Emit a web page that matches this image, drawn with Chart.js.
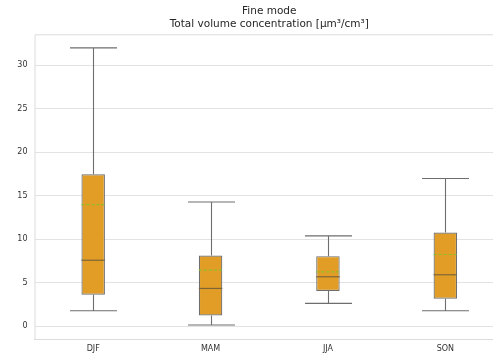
<!DOCTYPE html>
<html>
<head>
<meta charset="utf-8">
<script src="https://cdn.jsdelivr.net/npm/chart.js@4"></script>
<style>
  html, body { margin: 0; padding: 0; background: #fff; overflow: hidden; }
  #wrap { width: 505px; height: 359px; }
</style>
</head>
<body>
<div id="wrap"><canvas id="chart"></canvas></div>
<script>
const seasons = ["DJF", "MAM", "JJA", "SON"];
const whiskerLow = [1.8, 0.16, 2.64, 1.8];
const q1 = [3.63, 1.26, 4.06, 3.18];
const median = [7.6, 4.36, 5.7, 5.93];
const mean = [14.0, 6.47, 6.27, 8.26];
const q3 = [17.48, 8.14, 8.07, 10.78];
const whiskerHigh = [32.0, 14.3, 10.4, 17.0];
const yTicks = [0, 5, 10, 15, 20, 25, 30];

const edge = "#6e6e6e";

const boxExtras = {
  id: "boxExtras",
  beforeDatasetsDraw(c) {
    const ctx = c.ctx, x = c.scales.x, y = c.scales.y, a = c.chartArea;
    // spines
    ctx.save();
    ctx.strokeStyle = "#dcdcdc";
    ctx.lineWidth = 1;
    ctx.beginPath();
    ctx.moveTo(a.left + 0.5, a.bottom);
    ctx.lineTo(a.left + 0.5, a.top + 0.5);
    ctx.lineTo(a.right, a.top + 0.5);
    ctx.stroke();
    // whiskers + caps
    ctx.strokeStyle = edge;
    ctx.lineWidth = 1.1;
    const step = x.getPixelForValue(1) - x.getPixelForValue(0);
    seasons.forEach((s, i) => {
      const cx = Math.round(x.getPixelForValue(i)) + 0.5;
      const hw = step * 0.2;
      ctx.beginPath();
      ctx.moveTo(cx, y.getPixelForValue(whiskerLow[i]));
      ctx.lineTo(cx, y.getPixelForValue(q1[i]));
      ctx.moveTo(cx, y.getPixelForValue(q3[i]));
      ctx.lineTo(cx, y.getPixelForValue(whiskerHigh[i]));
      [whiskerLow[i], whiskerHigh[i]].forEach(v => {
        const py = y.getPixelForValue(v);
        ctx.moveTo(cx - hw, py);
        ctx.lineTo(cx + hw, py);
      });
      ctx.stroke();
    });
    ctx.restore();
  },
  afterDatasetsDraw(c) {
    const ctx = c.ctx, x = c.scales.x, y = c.scales.y;
    const step = x.getPixelForValue(1) - x.getPixelForValue(0);
    const hw = step * 0.1;
    ctx.save();
    seasons.forEach((s, i) => {
      const cx = x.getPixelForValue(i);
      ctx.strokeStyle = "#7d6536";
      ctx.lineWidth = 1.2;
      ctx.setLineDash([]);
      let py = y.getPixelForValue(median[i]);
      ctx.beginPath();
      ctx.moveTo(cx - hw, py);
      ctx.lineTo(cx + hw, py);
      ctx.stroke();
      ctx.strokeStyle = "#8fbf2a";
      ctx.setLineDash([3, 2]);
      py = y.getPixelForValue(mean[i]);
      ctx.beginPath();
      ctx.moveTo(cx - hw, py);
      ctx.lineTo(cx + hw, py);
      ctx.stroke();
    });
    ctx.restore();
  }
};

new Chart(document.getElementById("chart"), {
  type: "bar",
  data: {
    labels: seasons,
    datasets: [{
      data: seasons.map((s, i) => [q1[i], q3[i]]),
      backgroundColor: "#e19d26",
      borderColor: edge,
      borderWidth: 1.2,
      borderSkipped: false,
      barPercentage: 0.2,
      categoryPercentage: 1
    }]
  },
  options: {
    responsive: true,
    maintainAspectRatio: false,
    animation: false,
    layout: { padding: { left: 0, right: 1, top: 0, bottom: 0 } },
    plugins: {
      legend: { display: false },
      tooltip: { enabled: false },
      title: {
        display: true,
        fullSize: false,
        text: ["Fine mode", "Total volume concentration [μm³/cm³]"],
        color: "#262626",
        font: { family: "DejaVu Sans", size: 10.5, weight: "normal", lineHeight: 1.25 },
        padding: { top: 5, bottom: 3 }
      }
    },
    scales: {
      x: {
        grid: { display: false, drawTicks: false },
        border: { color: "#dcdcdc" },
        ticks: { color: "#333", font: { family: "DejaVu Sans", size: 8 }, padding: 5 },
        afterFit: s => { s.height = 20; }
      },
      y: {
        min: -1.45,
        max: 33.57,
        grid: { color: "#e3e3e3", drawTicks: false },
        border: { display: false },
        ticks: { color: "#333", font: { family: "DejaVu Sans", size: 8 }, padding: 7 },
        afterBuildTicks: s => { s.ticks = yTicks.map(v => ({ value: v })); },
        afterFit: s => { s.width = 34.5; }
      }
    }
  },
  plugins: [boxExtras]
});
</script>
</body>
</html>
